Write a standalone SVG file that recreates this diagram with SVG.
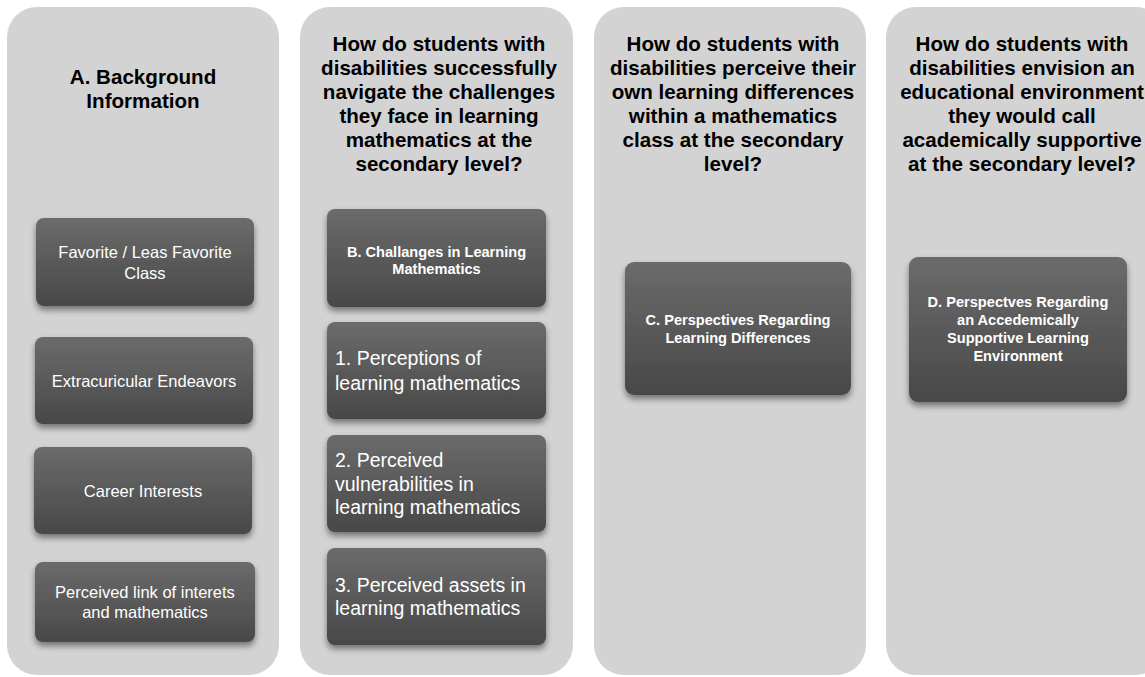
<svg xmlns="http://www.w3.org/2000/svg" width="1145" height="677" viewBox="0 0 1145 677">
<defs>
<linearGradient id="g" x1="0" y1="0" x2="0" y2="1">
<stop offset="0" stop-color="#6b6b6b"/>
<stop offset="1" stop-color="#484848"/>
</linearGradient>
<filter id="sh" x="-10%" y="-10%" width="120%" height="130%">
<feDropShadow dx="0" dy="4" stdDeviation="3" flood-color="#000" flood-opacity="0.45"/>
</filter>
</defs>
<style>
.panel{fill:#d3d3d3}
.box{fill:url(#g);filter:url(#sh)}
.h{font-family:"Liberation Sans",Arial,sans-serif;font-weight:bold;font-size:20.6px;fill:#000;text-anchor:middle}
.t{font-family:"Liberation Sans",Arial,sans-serif;font-size:16.5px;fill:#fff;text-anchor:middle}
.tb{font-family:"Liberation Sans",Arial,sans-serif;font-weight:bold;font-size:14.6px;fill:#fff;text-anchor:middle}
.tl{font-family:"Liberation Sans",Arial,sans-serif;font-size:19.5px;fill:#fff}
</style>
<rect width="1145" height="677" fill="#fff"/>
<g id="panelA">
<rect class="panel" x="7" y="7" width="272" height="668" rx="30"/>
<text class="h" x="143" y="84">A. Background</text>
<text class="h" x="143" y="108">Information</text>
</g>
<g id="panelB">
<rect class="panel" x="300" y="7" width="273" height="668" rx="30"/>
<text class="h" x="439"><tspan x="439" y="51">How do students with</tspan><tspan x="439" y="75">disabilities successfully</tspan><tspan x="439" y="99">navigate the challenges</tspan><tspan x="439" y="123">they face in learning</tspan><tspan x="439" y="147">mathematics at the</tspan><tspan x="439" y="171">secondary level?</tspan></text>
</g>
<g id="panelC">
<rect class="panel" x="594" y="7" width="272" height="668" rx="30"/>
<text class="h" x="733"><tspan x="733" y="51">How do students with</tspan><tspan x="733" y="75">disabilities perceive their</tspan><tspan x="733" y="99">own learning differences</tspan><tspan x="733" y="123">within a mathematics</tspan><tspan x="733" y="147">class at the secondary</tspan><tspan x="733" y="171">level?</tspan></text>
</g>
<g id="panelD">
<rect class="panel" x="886" y="7" width="280" height="668" rx="30"/>
<text class="h" x="1022"><tspan x="1022" y="51">How do students with</tspan><tspan x="1022" y="75">disabilities envision an</tspan><tspan x="1022" y="99">educational environment</tspan><tspan x="1022" y="123">they would call</tspan><tspan x="1022" y="147">academically supportive</tspan><tspan x="1022" y="171">at the secondary level?</tspan></text>
</g>
<g id="connectors"></g>
<g id="a1">
<rect class="box" x="36" y="218" width="218" height="88" rx="8"/>
<text class="t" x="145" y="258">Favorite / Leas Favorite</text>
<text class="t" x="145" y="279">Class</text>
</g>
<g id="a2">
<rect class="box" x="35" y="337" width="218" height="87" rx="8"/>
<text class="t" x="144" y="387">Extracuricular Endeavors</text>
</g>
<g id="a3">
<rect class="box" x="34" y="447" width="218" height="87" rx="8"/>
<text class="t" x="143" y="497">Career Interests</text>
</g>
<g id="a4">
<rect class="box" x="35" y="562" width="220" height="80" rx="8"/>
<text class="t" x="145" y="598">Perceived link of interets</text>
<text class="t" x="145" y="618">and mathematics</text>
</g>
<g id="b0">
<rect class="box" x="327" y="209" width="219" height="98" rx="8"/>
<text class="tb" x="436.5" y="257">B. Challanges in Learning</text>
<text class="tb" x="436.5" y="274">Mathematics</text>
</g>
<g id="b1">
<rect class="box" x="327" y="322" width="219" height="97" rx="8"/>
<text class="tl" x="335" y="365">1. Perceptions of</text>
<text class="tl" x="335" y="390">learning mathematics</text>
</g>
<g id="b2">
<rect class="box" x="327" y="435" width="219" height="97" rx="8"/>
<text class="tl" x="335" y="467">2. Perceived</text>
<text class="tl" x="335" y="491">vulnerabilities in</text>
<text class="tl" x="335" y="514">learning mathematics</text>
</g>
<g id="b3">
<rect class="box" x="327" y="548" width="219" height="97" rx="8"/>
<text class="tl" x="335" y="592">3. Perceived assets in</text>
<text class="tl" x="335" y="615">learning mathematics</text>
</g>
<g id="c0">
<rect class="box" x="625" y="262" width="226" height="133" rx="9"/>
<text class="tb" x="738" y="325">C. Perspectives Regarding</text>
<text class="tb" x="738" y="343">Learning Differences</text>
</g>
<g id="d0">
<rect class="box" x="909" y="257" width="218" height="145" rx="9"/>
<text class="tb" x="1018" y="307">D. Perspectves Regarding</text>
<text class="tb" x="1018" y="325">an Accedemically</text>
<text class="tb" x="1018" y="343">Supportive Learning</text>
<text class="tb" x="1018" y="361">Environment</text>
</g>
</svg>
